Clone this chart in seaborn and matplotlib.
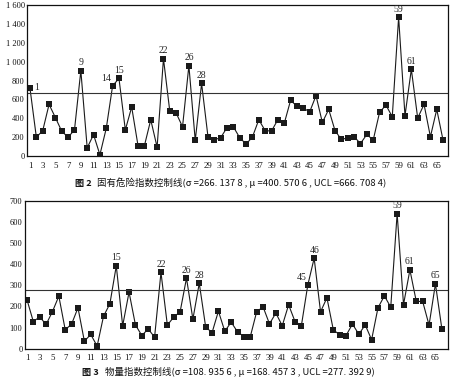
import numpy as np
import pandas as pd
import seaborn as sns
import matplotlib.pyplot as plt

# sample number 1..66
idx = list(range(1, 67))

# 固有危险指数 (fig 2)
risk = [717, 201, 269, 548, 408, 263, 201, 278, 905, 88,
        228, 15, 295, 745, 822, 278, 520, 110, 110, 385,
        95, 1032, 473, 456, 311, 958, 166, 770, 208, 173,
        196, 302, 310, 196, 127, 203, 386, 270, 266, 386,
        346, 590, 530, 510, 468, 640, 357, 495, 269, 177,
        194, 205, 134, 230, 170, 463, 541, 417, 1470, 428,
        919, 403, 548, 205, 495, 166]
risk_ucl = 666.7084
risk_marked = [1, 9, 14, 15, 22, 26, 28, 59, 61]
risk_yticks = [0, 200, 400, 600, 800, 1000, 1200, 1400, 1600]
risk_ylabels = ['0', '200', '400', '600', '800', '1 000', '1 200', '1 400', '1 600']
risk_fig = '图 2'
risk_caption = '固有危险指数控制线(σ =266. 137 8 , μ =400. 570 6 , UCL =666. 708 4)'

# 物量指数 (fig 3)
qty = [233, 129, 151, 115, 176, 249, 90, 117, 194, 36,
       68, 13, 154, 213, 392, 109, 268, 113, 63, 94,
       55, 361, 112, 150, 175, 334, 140, 310, 104, 76,
       178, 83, 126, 80, 58, 58, 176, 198, 118, 169,
       109, 208, 129, 110, 301, 428, 175, 241, 90, 66,
       63, 117, 69, 113, 43, 194, 250, 197, 639, 209,
       373, 224, 224, 112, 307, 96]
qty_ucl = 277.3929
qty_marked = [15, 22, 26, 28, 45, 46, 59, 61, 65]
qty_yticks = [0, 100, 200, 300, 400, 500, 600, 700]
qty_ylabels = ['0', '100', '200', '300', '400', '500', '600', '700']
qty_fig = '图 3'
qty_caption = '物量指数控制线(σ =108. 935 6 , μ =168. 457 3 , UCL =277. 392 9)'

xlabels = [str(i) if i % 2 == 1 else '' for i in idx]

sns.set_style('white')
plt.rcParams['font.family'] = ['Liberation Serif', 'DejaVu Serif']

fig = plt.figure(figsize=(4.5, 3.8), dpi=100)
ax1 = fig.add_axes([0.061, 0.589, 0.935, 0.398])
ax2 = fig.add_axes([0.056, 0.082, 0.940, 0.390])

line_col = '#1a1a1a'


def control_chart(ax, vals, ucl, marked, yticks, ylabels, xlim, left_lab):
    df = pd.DataFrame({'n': idx, 'v': vals})
    sns.lineplot(data=df, x='n', y='v', ax=ax, color=line_col, linewidth=0.8,
                 marker='s', markersize=3.8, markeredgewidth=0, markerfacecolor=line_col)
    ax.axhline(ucl, color='#333333', linewidth=0.8)
    for k in marked:
        v = vals[k - 1]
        if k in left_lab:
            ax.annotate(str(k), (k, v), xytext=(-1, 2), textcoords='offset points',
                        ha='right', va='bottom', fontsize=7)
        elif k == 1:
            ax.annotate(str(k), (k, v), xytext=(3, 1), textcoords='offset points',
                        ha='left', va='center', fontsize=7)
        else:
            ax.annotate(str(k), (k, v), xytext=(0, 2.5), textcoords='offset points',
                        ha='center', va='bottom', fontsize=7)
    ax.set_xlim(*xlim)
    ax.set_ylim(yticks[0], yticks[-1])
    ax.set_xticks(idx)
    ax.set_xticklabels(xlabels)
    ax.set_yticks(yticks)
    ax.set_yticklabels(ylabels)
    ax.tick_params(axis='x', direction='in', length=2.5, width=0.6, pad=4,
                   labelsize=6.3, colors='#111111')
    ax.tick_params(axis='y', length=0, pad=2, labelsize=6.0, colors='#111111')
    ax.set_xlabel('')
    ax.set_ylabel('')
    for s in ax.spines.values():
        s.set_color('#111111')
        s.set_linewidth(0.9)


control_chart(ax1, risk, risk_ucl, risk_marked, risk_yticks, risk_ylabels,
              (0.6, 66.8), [14])
control_chart(ax2, qty, qty_ucl, qty_marked, qty_yticks, qty_ylabels,
              (0.73, 67.0), [45])

cap_font = ['Noto Sans CJK SC', 'DejaVu Sans']
fig.text(75 / 450, 1 - 183 / 380, risk_fig, ha='left', va='center',
         fontsize=6.6, family=cap_font, fontweight='bold', color='#111111')
fig.text(97 / 450, 1 - 183 / 380, risk_caption, ha='left', va='center',
         fontsize=6.8, family=cap_font, color='#111111')
fig.text(82 / 450, 1 - 372 / 380, qty_fig, ha='left', va='center',
         fontsize=6.6, family=cap_font, fontweight='bold', color='#111111')
fig.text(105 / 450, 1 - 372 / 380, qty_caption, ha='left', va='center',
         fontsize=6.8, family=cap_font, color='#111111')

fig.savefig('out.png', dpi=100)
